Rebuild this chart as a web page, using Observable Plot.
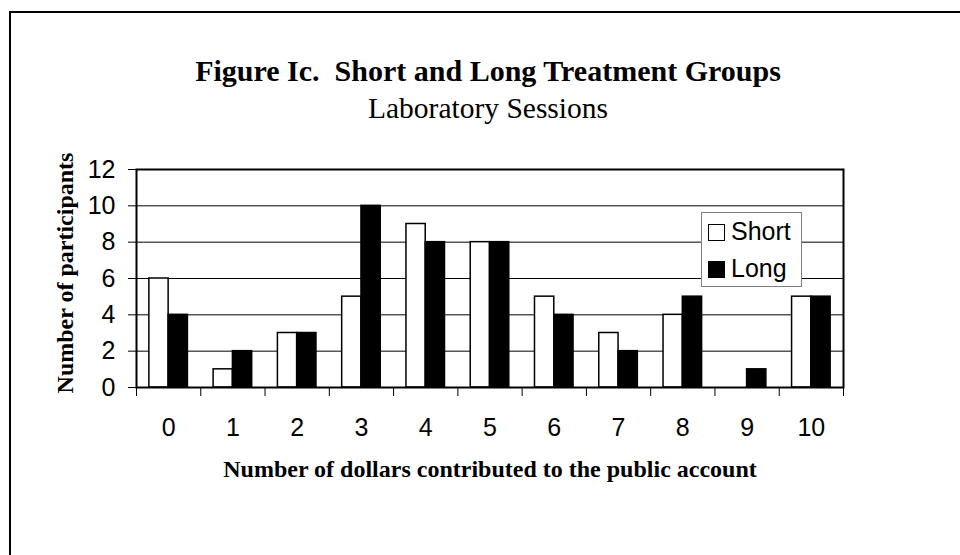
<!DOCTYPE html>
<html><head><meta charset="utf-8">
<script src="https://cdn.jsdelivr.net/npm/d3@7"></script>
<script src="https://cdn.jsdelivr.net/npm/@observablehq/plot@0.6"></script>
<style>
body{margin:0;background:#fff;}
#wrap{position:relative;width:960px;height:555px;overflow:hidden;background:#fff;}
#border{position:absolute;left:9px;top:11px;width:1000px;height:600px;border:2.5px solid #000;box-sizing:border-box;}
#chart{position:absolute;left:0;top:0;}
.t{position:absolute;left:0;width:976px;text-align:center;font-family:"Liberation Serif","Times New Roman",serif;color:#000;white-space:pre;}
#title{top:56px;font-size:30px;line-height:30px;font-weight:bold;}
#subtitle{top:94px;font-size:29.5px;line-height:29.5px;}
#legend{position:absolute;left:701px;top:212px;width:101px;height:75px;border:1px solid #808080;background:#fff;box-sizing:border-box;font-family:"Liberation Sans",Arial,sans-serif;font-size:25px;line-height:25px;}
#legend .sw{position:absolute;left:6px;width:17px;height:17px;box-sizing:border-box;border:1.5px solid #000;}
#legend .lb{position:absolute;left:29px;}
</style>
</head><body>
<div id="wrap">
  <div id="border"></div>
  <div id="chart"></div>
  <div class="t" id="title">Figure Ic.  Short and Long Treatment Groups</div>
  <div class="t" id="subtitle">Laboratory Sessions</div>
  <div id="legend"></div>
</div>
<script>
const categories = [0, 1, 2, 3, 4, 5, 6, 7, 8, 9, 10];
const shortValues = [6, 1, 3, 5, 9, 8, 5, 3, 4, 0, 5];
const longValues  = [4, 2, 3, 10, 8, 8, 4, 2, 5, 1, 5];
const seriesNames = ["Short", "Long"];
const yTicks = [0, 2, 4, 6, 8, 10, 12];
const gridTicks = [2, 4, 6, 8, 10];
const yTitle = "Number of participants";
const xTitle = "Number of dollars contributed to the public account";

const shortRows = categories.map((c, i) => ({cat: c, value: shortValues[i]})).filter(d => d.value > 0);
const longRows = categories.map((c, i) => ({cat: c, value: longValues[i]})).filter(d => d.value > 0);
const bounds = categories.map(c => c - 0.5).concat([categories[categories.length - 1] + 0.5]);
const half = 0.3;
const serif = "'Liberation Serif', 'Times New Roman', serif";

const plot = Plot.plot({
  width: 960,
  height: 555,
  marginLeft: 136,
  marginRight: 117,
  marginTop: 169,
  marginBottom: 168,
  style: {background: "transparent", fontFamily: "'Liberation Sans', Arial, sans-serif", fontSize: "25px", color: "#000"},
  x: {type: "linear", domain: [bounds[0], bounds[bounds.length - 1]]},
  y: {domain: [0, 12]},
  marks: [
    Plot.ruleY(gridTicks, {stroke: "#000", strokeWidth: 1}),
    Plot.rectY(shortRows, {x1: d => d.cat - half, x2: d => d.cat, y: "value", fill: "#fff", stroke: "#000", strokeWidth: 1.5}),
    Plot.rectY(longRows, {x1: d => d.cat, x2: d => d.cat + half, y: "value", fill: "#000", stroke: "#000", strokeWidth: 1.5}),
    Plot.frame({stroke: "#000", strokeWidth: 2}),
    Plot.axisY({ticks: yTicks, tickSize: 8, tickPadding: 13, label: null, fontSize: 25, strokeWidth: 1}),
    Plot.axisX({ticks: bounds, tickSize: 9, tickFormat: () => "", label: null, strokeWidth: 1}),
    Plot.axisX({ticks: categories, tickSize: 0, tickPadding: 31, tickFormat: d => String(d), label: null, fontSize: 25}),
    Plot.text([yTitle], {text: d => d, frameAnchor: "left", textAnchor: "middle", lineAnchor: "middle", rotate: -90, dx: -71, dy: -5.5, fontSize: 24, fontWeight: "bold", fontFamily: serif, fill: "#000"}),
    Plot.text([xTitle], {text: d => d, frameAnchor: "bottom", textAnchor: "middle", lineAnchor: "middle", dy: 82, fontSize: 24, fontWeight: "bold", fontFamily: serif, fill: "#000"})
  ]
});
document.getElementById("chart").appendChild(plot);

const legend = document.getElementById("legend");
const fills = ["#fff", "#000"];
seriesNames.forEach((name, i) => {
  const sw = document.createElement("div");
  sw.className = "sw";
  sw.style.top = (11 + i * 37) + "px";
  sw.style.background = fills[i];
  legend.appendChild(sw);
  const lb = document.createElement("div");
  lb.className = "lb";
  lb.style.top = (6 + i * 37) + "px";
  lb.textContent = name;
  legend.appendChild(lb);
});
</script>
</body></html>
